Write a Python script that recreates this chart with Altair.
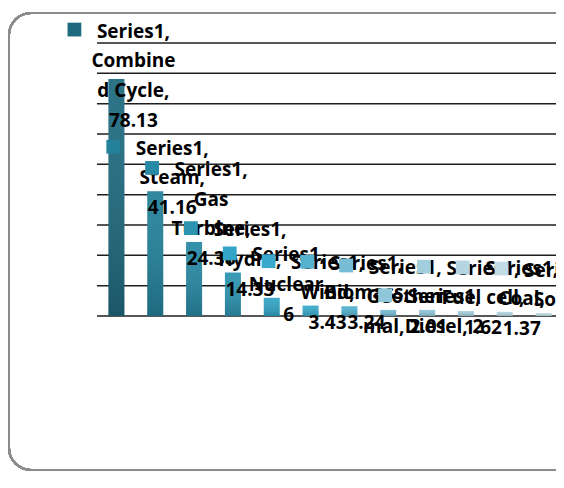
import altair as alt
import pandas as pd

categories = ["Combined Cycle", "Steam", "Gas Turbine", "Hydro", "Nuclear", "Wind",
              "Biomass", "Geothermal", "Diesel", "Fuel cell", "Coal", "Solar"]
values = [78.13, 41.16, 24.38, 14.33, 6, 3.43, 3.24, 2.01, 2, 1.62, 1.37, 1]
series_name = "Series1"
# category text as wrapped by the original's label boxes
wrapped = ["Combine\nd Cycle,", "Steam,", "Gas\nTurbine,", "Hydro,", "Nuclear,", "Wind,",
           "Biomass,", "Geother\nmal,", "Diesel,", "Fuel cell,", "Coal,", "Solar,"]
value_on_same_line = [False, False, False, False, False, False, False, True, True, False, False, False]
colors = ["#1f6a7f", "#23819a", "#2889a4", "#2c94b0", "#32a4c5", "#39aacb",
          "#55b3d0", "#76bdd5", "#90c6da", "#a3cede", "#b4d6e2", "#c2dce6"]
y_ticks = [0, 10, 20, 30, 40, 50, 60, 70, 80, 90]

labels = []
for w, v, same in zip(wrapped, values, value_on_same_line):
    vs = f"{v:g}"
    labels.append(f"{series_name},\n{w} {vs}" if same else f"{series_name},\n{w}\n{vs}")

df = pd.DataFrame({"cat": categories, "value": values, "label": labels})
df["n"] = df["label"].str.count("\n") + 1
grid_df = pd.DataFrame({"t": y_ticks})

base = alt.Chart(df).transform_calculate(anchor="min(datum.value, 70)")

x = alt.X("cat:N", sort=categories, axis=None,
          scale=alt.Scale(paddingInner=0, paddingOuter=0, range=[0, 466]))
col = alt.Color("cat:N", sort=categories, legend=None,
                scale=alt.Scale(domain=categories, range=colors))
yscale = alt.Scale(domain=[0, 90], nice=False)
ya = alt.Y("anchor:Q", axis=None, scale=yscale)

frame = alt.Chart(df).mark_rect(cornerRadius=22, fillOpacity=0, stroke="#8c8c8c",
                                 strokeWidth=2).encode(
    x=alt.value(-88), x2=alt.value(490), y=alt.value(-30), y2=alt.value(427))

grid = alt.Chart(grid_df).mark_rule(color="#1e1e1e", strokeWidth=1.5).encode(
    x=alt.value(0), x2=alt.value(466),
    y=alt.Y("t:Q", axis=None, scale=yscale))

bars = base.mark_bar(size=16).encode(
    x=x,
    y=alt.Y("value:Q", axis=None, scale=yscale),
    color=col,
)

shade = base.mark_bar(
    size=16,
    color=alt.Gradient(
        gradient="linear",
        stops=[alt.GradientStop(color="rgba(255,255,255,0.06)", offset=0),
               alt.GradientStop(color="rgba(0,0,0,0.18)", offset=1)],
        x1=0, x2=0, y1=0, y2=1),
).encode(x=x, y=alt.Y("value:Q", axis=None, scale=yscale))

texts = []
keys = []
for n in [2, 3, 4]:
    sub = base.transform_filter(alt.datum.n == n)
    texts.append(sub.mark_text(align="center", baseline="bottom", dx=17,
                               dy=27 - (n - 1) * 29.7, lineBreak="\n",
                               fontSize=19, fontWeight="bold", font="Open Sans",
                               lineHeight=29.7, color="#000000").encode(
        x=x, y=ya, text="label:N"))
    keys.append(sub.mark_square(size=190, opacity=1, xOffset=-42,
                                yOffset=15 - (n - 1) * 29.7).encode(
        x=x, y=ya, color=col))

chart = alt.layer(frame, grid, bars, shade, *texts, *keys).properties(
    width=458, height=273,
    autosize=alt.AutoSizeParams(type="none"),
    padding={"left": 89, "top": 35, "right": 1, "bottom": 157},
).configure_view(stroke=None)

chart.save("out.html", embed_options={"renderer": "svg", "actions": False})
